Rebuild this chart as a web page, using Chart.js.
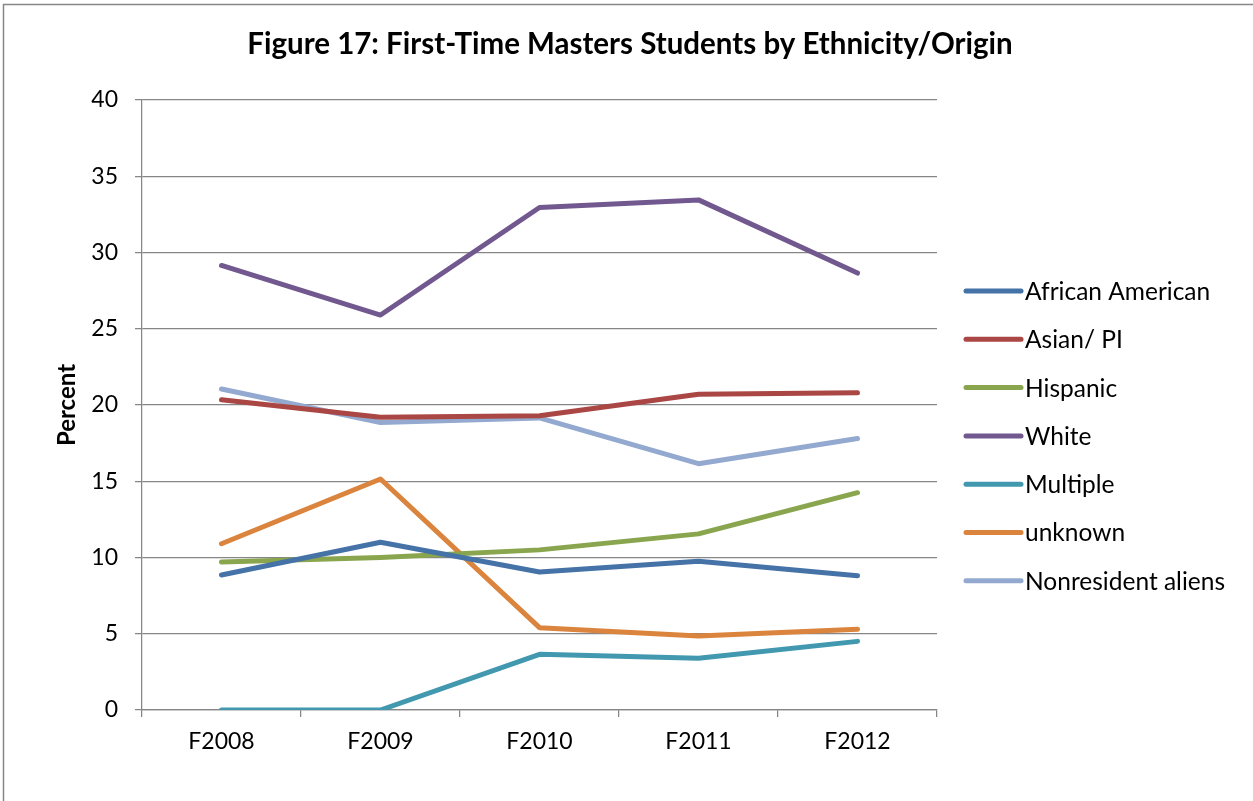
<!DOCTYPE html>
<html>
<head>
<meta charset="utf-8">
<script src="https://cdn.jsdelivr.net/npm/chart.js@4/dist/chart.umd.min.js"></script>
<style>
html,body{margin:0;padding:0;background:#fff;}
#wrap{position:relative;width:1253px;height:801px;}
</style>
</head>
<body>
<div id="wrap"><canvas id="c" width="1253" height="801"></canvas></div>
<script>
const titleText = 'Figure 17: First-Time Masters Students by Ethnicity/Origin';
const yAxisTitle = 'Percent';
const categories = ['F2008','F2009','F2010','F2011','F2012'];
const seriesNames = ['African American','Asian/ PI','Hispanic','White','Multiple','unknown','Nonresident aliens'];
const seriesColors = ['#4572A7','#AA4643','#89A54E','#71588F','#4198AF','#DB843D','#93A9CF'];
const africanAmerican = [8.85, 11.0, 9.05, 9.75, 8.8];
const asianPI = [20.35, 19.2, 19.3, 20.7, 20.8];
const hispanic = [9.7, 10.0, 10.5, 11.55, 14.25];
const white = [29.15, 25.9, 32.95, 33.45, 28.65];
const multiple = [0, 0, 3.65, 3.4, 4.5];
const unknown = [10.9, 15.15, 5.4, 4.85, 5.3];
const nonresident = [21.05, 18.85, 19.15, 16.15, 17.8];
const seriesValues = [africanAmerican, asianPI, hispanic, white, multiple, unknown, nonresident];
const yMin = 0, yMax = 40, yStep = 5;

const FONT = 'Lato, "Open Sans", sans-serif';
const GRID = '#868686';

const decor = {
  id: 'decor',
  beforeDraw(chart) {
    const ctx = chart.ctx;
    ctx.save();
    ctx.fillStyle = '#fff';
    ctx.fillRect(0, 0, chart.width, chart.height);
    ctx.strokeStyle = GRID;
    ctx.lineWidth = 1.5;
    ctx.strokeRect(3.5, 4.5, chart.width + 20, chart.height + 20);
    ctx.restore();
  },
  afterDraw(chart) {
    const ctx = chart.ctx;
    ctx.save();
    // title
    ctx.fillStyle = '#000';
    ctx.font = 'bold 29.5px ' + FONT;
    ctx.textAlign = 'center';
    ctx.textBaseline = 'alphabetic';
    ctx.fillText(titleText, 630, 54);
    // legend
    const x0 = 966, x1 = 1021, y0 = 291, dy = 48.3;
    chart.data.datasets.forEach((ds, i) => {
      const y = y0 + i * dy;
      ctx.strokeStyle = ds.borderColor;
      ctx.lineWidth = 5;
      ctx.lineCap = 'round';
      ctx.beginPath();
      ctx.moveTo(x0, y);
      ctx.lineTo(x1, y);
      ctx.stroke();
      ctx.fillStyle = '#000';
      ctx.font = '24.5px ' + FONT;
      ctx.textAlign = 'left';
      ctx.textBaseline = 'middle';
      ctx.fillText(ds.label, 1025, y + 1);
    });
    ctx.restore();
  }
};

new Chart(document.getElementById('c'), {
  type: 'line',
  data: {
    labels: categories,
    datasets: seriesNames.map((n, i) => ({
      label: n,
      data: seriesValues[i],
      borderColor: seriesColors[i],
      backgroundColor: seriesColors[i],
      borderWidth: 5,
      borderCapStyle: 'round',
      borderJoinStyle: 'round',
      pointRadius: 0,
      pointHoverRadius: 0,
      tension: 0,
      fill: false
    }))
  },
  options: {
    responsive: false,
    animation: false,
    devicePixelRatio: 1,
    layout: { padding: { left: 20, right: 316, top: 100, bottom: 0 } },
    plugins: {
      legend: { display: false },
      title: { display: false },
      tooltip: { enabled: false }
    },
    scales: {
      x: {
        type: 'category',
        offset: true,
        grid: { offset: true, drawOnChartArea: false, drawTicks: true, tickLength: 7, color: GRID, lineWidth: 1.25 },
        border: { color: GRID, width: 1.25 },
        ticks: { color: '#000', font: { family: FONT, size: 23 }, padding: 11, maxRotation: 0 },
        afterFit(s) { s.height = 91; }
      },
      y: {
        min: yMin, max: yMax,
        ticks: { stepSize: yStep, color: '#000', font: { family: FONT, size: 23 }, padding: 17 },
        grid: { color: GRID, lineWidth: 1.25, tickLength: 7 },
        border: { color: GRID, width: 1.25 },
        title: { display: true, text: yAxisTitle, color: '#000', font: { family: FONT, size: 24, weight: 'bold' }, padding: { top: 33, bottom: 0 } },
        afterFit(s) { s.width = 122; }
      }
    }
  },
  plugins: [decor]
});
</script>
</body>
</html>
